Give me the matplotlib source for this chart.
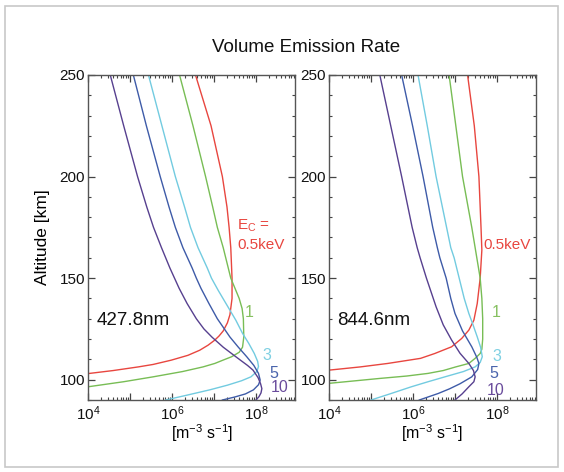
import matplotlib
matplotlib.use("Agg")
import matplotlib.pyplot as plt
from matplotlib.ticker import FixedLocator, LogLocator, NullFormatter, MultipleLocator
from matplotlib.patches import Rectangle

plt.rcParams['font.family'] = ['Liberation Sans', 'DejaVu Sans']
plt.rcParams['mathtext.fontset'] = 'custom'
plt.rcParams['mathtext.rm'] = 'Liberation Sans'
plt.rcParams['mathtext.it'] = 'Liberation Sans:italic'
plt.rcParams['mathtext.default'] = 'regular'

# ---------------- data: altitude [km] and log10 of volume emission rate [m^-3 s^-1] ----------------
energies = ["0.5", "1", "3", "5", "10"]
colors = ["#e8463f", "#78bd55", "#72cbe0", "#3e5ba8", "#57408f"]
label_colors = ["#e8463f", "#86c060", "#7fd0e2", "#4a64ac", "#6a4c9c"]
panel_names = ["427.8nm", "844.6nm"]

# 427.8 nm
alt_4278_e05 = [250, 225, 200, 185, 175, 165, 150, 140, 132, 128, 124, 121.5, 119.5, 117, 114.5,
                112, 109.6, 107.5, 106.3, 104.5, 103]
lg_4278_e05 = [6.56, 6.93, 7.20, 7.31, 7.36, 7.40, 7.43, 7.43, 7.38, 7.32, 7.22, 7.12, 7.02, 6.86,
               6.66, 6.38, 5.98, 5.55, 5.20, 4.60, 4.00]
alt_4278_e1 = [250, 225, 200, 185, 175, 165, 155, 150, 145, 140, 135, 130, 121, 116, 113.5, 112.5,
               111.3, 109.5, 108, 106.3, 104, 101.4, 99, 96.5]
lg_4278_e1 = [6.18, 6.50, 6.80, 6.97, 7.08, 7.22, 7.34, 7.40, 7.50, 7.60, 7.67, 7.70, 7.71, 7.68,
              7.60, 7.52, 7.42, 7.20, 7.02, 6.74, 6.25, 5.55, 4.85, 4.00]
alt_4278_e3 = [250, 225, 200, 185, 175, 165, 155, 150, 144, 137, 129.3, 122.8, 117.8, 112.9, 109,
               106.5, 104, 101.4, 99.5, 97.3, 95, 92.4, 90]
lg_4278_e3 = [5.44, 5.76, 6.08, 6.30, 6.44, 6.62, 6.84, 6.94, 7.10, 7.30, 7.52, 7.68, 7.83, 7.96,
              8.04, 8.06, 8.02, 7.88, 7.66, 7.32, 6.90, 6.36, 5.85]
alt_4278_e5 = [250, 225, 200, 185, 175, 165, 155, 150, 145, 137.5, 130, 121, 116, 111.3, 107,
               103.1, 99.8, 97.5, 95, 93, 91.5, 90]
lg_4278_e5 = [5.08, 5.39, 5.72, 5.93, 6.08, 6.26, 6.48, 6.58, 6.69, 6.88, 7.08, 7.38, 7.58, 7.78,
              7.95, 8.06, 8.10, 8.06, 7.94, 7.75, 7.50, 7.20]
alt_4278_e10 = [250, 225, 200, 185, 175, 165, 155, 150, 145, 137.5, 130, 125, 121, 116, 111.3,
                107, 104.7, 101, 98, 95.6, 93.5, 91.6, 90]
lg_4278_e10 = [4.53, 4.85, 5.18, 5.40, 5.56, 5.75, 5.95, 6.06, 6.17, 6.36, 6.58, 6.76, 6.95, 7.22,
               7.52, 7.80, 7.93, 8.05, 8.11, 8.14, 8.12, 8.07, 8.00]

# 844.6 nm
alt_8446_e05 = [250, 225, 200, 175, 163.8, 150, 137.5, 129.3, 124.4, 120.3, 116.2, 112.9, 110.5,
                108, 106.3, 104.7]
lg_8446_e05 = [7.30, 7.46, 7.57, 7.62, 7.64, 7.60, 7.53, 7.45, 7.33, 7.16, 6.92, 6.52, 6.18,
               5.40, 4.75, 4.00]
alt_8446_e1 = [250, 225, 200, 175, 165, 160, 150, 140, 130, 120, 115, 112.9, 110.5, 108, 106.3,
               104.5, 103.1, 101.8, 100.6, 99.4, 98.2]
lg_8446_e1 = [6.86, 7.02, 7.18, 7.40, 7.48, 7.52, 7.60, 7.64, 7.66, 7.66, 7.64, 7.60, 7.48, 7.33,
              7.02, 6.72, 6.36, 5.85, 5.20, 4.60, 4.00]
alt_8446_e3 = [250, 225, 200, 175, 165, 160, 150, 140, 132.6, 127, 121.1, 116, 111.3, 108.5,
               106.3, 104, 101.4, 99, 96.5, 93, 90]
lg_8446_e3 = [6.12, 6.34, 6.55, 6.80, 6.90, 6.98, 7.10, 7.22, 7.33, 7.43, 7.53, 7.61, 7.65, 7.60,
              7.48, 7.20, 6.76, 6.36, 5.96, 5.45, 5.00]
alt_8446_e5 = [250, 225, 200, 175, 165, 160, 150, 140, 132.6, 124, 116.2, 111, 108, 105, 101.4,
               98, 95.5, 93.2, 90]
lg_8446_e5 = [5.73, 5.99, 6.24, 6.47, 6.58, 6.64, 6.79, 6.90, 7.00, 7.18, 7.40, 7.52, 7.57, 7.54,
              7.40, 7.12, 6.87, 6.60, 6.15]
alt_8446_e10 = [250, 225, 200, 175, 165, 160, 150, 135.9, 127, 119.5, 113, 108, 104.5, 101.4, 99,
                96.5, 93, 90]
lg_8446_e10 = [5.21, 5.47, 5.73, 5.98, 6.10, 6.17, 6.32, 6.55, 6.72, 6.92, 7.12, 7.33, 7.44, 7.48,
               7.45, 7.33, 7.17, 7.00]

panel_alts = [
    [alt_4278_e05, alt_4278_e1, alt_4278_e3, alt_4278_e5, alt_4278_e10],
    [alt_8446_e05, alt_8446_e1, alt_8446_e3, alt_8446_e5, alt_8446_e10],
]
panel_lgs = [
    [lg_4278_e05, lg_4278_e1, lg_4278_e3, lg_4278_e5, lg_4278_e10],
    [lg_8446_e05, lg_8446_e1, lg_8446_e3, lg_8446_e5, lg_8446_e10],
]

x_major = [1e4, 1e5, 1e6, 1e7, 1e8]
x_ticklabels = ["$10^{4}$", "", "$10^{6}$", "", "$10^{8}$"]
y_major = [100, 150, 200, 250]
y_ticklabels = ["100", "150", "200", "250"]

title = "Volume Emission Rate"
ylabel = "Altitude [km]"
xlabel = "[m$^{-3}$ s$^{-1}$]"

# ---------------- figure ----------------
fig = plt.figure(figsize=(5.64, 4.72), dpi=100)
fig.patches.append(Rectangle((5 / 564, 1 - 467 / 472), 553 / 564, 461 / 472,
                             transform=fig.transFigure, fill=False,
                             edgecolor="#c8c8c8", lw=1.2))

axes_rects = [[88 / 564, 72 / 472, 207 / 564, 325 / 472],
              [329 / 564, 72 / 472, 207 / 564, 325 / 472]]

num_label_pos = [
    [(0.755, 0.270), (0.845, 0.137), (0.875, 0.080), (0.885, 0.038)],
    [(0.785, 0.270), (0.79, 0.135), (0.775, 0.083), (0.76, 0.030)],
]

for p, rect in enumerate(axes_rects):
    ax = fig.add_axes(rect)
    for i in range(len(energies)):
        vals = [10 ** v for v in panel_lgs[p][i]]
        ax.plot(vals, panel_alts[p][i], color=colors[i], lw=1.0, solid_joinstyle="round")
    ax.set_xscale("log")
    ax.set_xlim(1e4, 8.5e8)
    ax.set_ylim(90, 250)
    ax.xaxis.set_major_locator(FixedLocator(x_major))
    ax.set_xticklabels(x_ticklabels)
    ax.xaxis.set_minor_locator(LogLocator(base=10, subs=[2, 3, 4, 5, 6, 7, 8, 9], numticks=20))
    ax.xaxis.set_minor_formatter(NullFormatter())
    ax.set_yticks(y_major)
    ax.set_yticklabels(y_ticklabels)
    ax.yaxis.set_minor_locator(MultipleLocator(10))
    ax.tick_params(which="both", direction="in", top=True, right=True, colors="#444444",
                   labelcolor="#111111")
    ax.tick_params(which="major", length=5, width=0.9, labelsize=11, pad=3)
    ax.tick_params(which="minor", length=2.5, width=0.8)
    ax.tick_params(axis="y", pad=2)
    for s in ax.spines.values():
        s.set_color("#555555")
        s.set_linewidth(1.0)
    ax.set_xlabel(xlabel, fontsize=11.5)
    if p == 0:
        ax.xaxis.set_label_coords(0.55, -0.07)
        ax.set_ylabel(ylabel, fontsize=12.5)
        ax.yaxis.set_label_coords(-0.185, 0.5)
        ax.text(0.72, 0.535, "E$_\\mathrm{C}$ =", transform=ax.transAxes, color=label_colors[0],
                fontsize=11, ha="left", va="center")
        ax.text(0.72, 0.478, "0.5keV", transform=ax.transAxes, color=label_colors[0],
                fontsize=11, ha="left", va="center")
    else:
        ax.xaxis.set_label_coords(0.5, -0.07)
        ax.text(0.745, 0.478, "0.5keV", transform=ax.transAxes, color=label_colors[0],
                fontsize=11, ha="left", va="center")
    for i in range(1, len(energies)):
        x, y = num_label_pos[p][i - 1]
        ax.text(x, y, energies[i], transform=ax.transAxes, color=label_colors[i],
                fontsize=11.5, ha="left", va="center")
    ax.text(0.04, 0.245, panel_names[p], transform=ax.transAxes, color="#111111",
            fontsize=13.5, ha="left", va="center")

fig.text(0.542, 1 - 47 / 472, title, fontsize=13.5, ha="center", va="center", color="#111111")

fig.savefig("out.png", dpi=100)
